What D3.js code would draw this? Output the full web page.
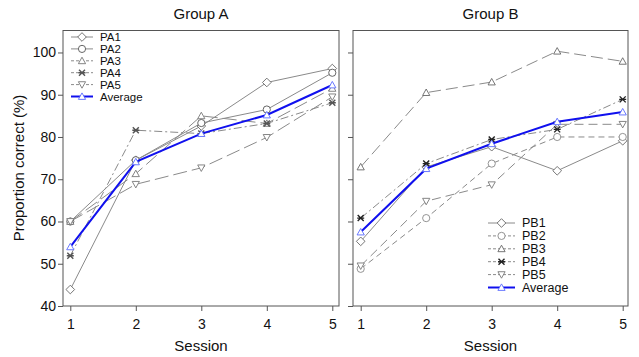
<!DOCTYPE html>
<meta charset="utf-8">
<style>
body { margin: 0; background: #fff; }
svg { display: block; }
svg text { font-family: Arial, "Liberation Sans", sans-serif; }
</style>
<body>
<script src="https://cdn.jsdelivr.net/npm/d3@7"></script>
<script>

// sessions on the x axis
var sessions = [1, 2, 3, 4, 5];
var yTicks = [40, 50, 60, 70, 80, 90, 100];

// Group A, proportion correct (%) per session
var groupANames = ["PA1", "PA2", "PA3", "PA4", "PA5", "Average"];
var pa1 = [43.9, 74.5, 82.6, 92.9, 96.2];
var pa2 = [60.0, 74.5, 83.3, 86.5, 95.2];
var pa3 = [60.0, 71.3, 85.0, 83.2, 91.5];
var pa4 = [51.9, 81.6, 80.8, 83.2, 88.1];
var pa5 = [60.0, 68.8, 72.7, 79.9, 89.5];
var avgA = [54.0, 74.1, 80.8, 85.2, 92.3];

// Group B
var groupBNames = ["PB1", "PB2", "PB3", "PB4", "PB5", "Average"];
var pb1 = [55.3, 72.9, 77.7, 72.0, 79.1];
var pb2 = [48.8, 60.8, 73.7, 80.0, 80.0];
var pb3 = [72.9, 90.5, 93.0, 100.3, 97.9];
var pb4 = [60.8, 73.7, 79.4, 81.8, 88.9];
var pb5 = [49.5, 64.8, 68.7, 83.0, 83.0];
var avgB = [57.5, 72.5, 78.4, 83.6, 85.9];

// line / marker styles, one per series (same order as names)
var stylesA = [
  {sym: "diamond", dash: null, mk: "#666"},
  {sym: "circle", dash: null, mk: "#555"},
  {sym: "triangle", dash: "14,5", mk: "#777"},
  {sym: "cross", dash: "8,3,2,3", mk: "#555"},
  {sym: "down", dash: "14,5", mk: "#777"},
  {sym: "triangle", dash: null, avg: true}
];
var stylesB = [
  {sym: "diamond", dash: null, mk: "#666"},
  {sym: "circle", dash: "6,4", mk: "#888"},
  {sym: "triangle", dash: "12,5", mk: "#666"},
  {sym: "cross", dash: "8,3,2,3", mk: "#222"},
  {sym: "down", dash: "9,5", mk: "#777"},
  {sym: "triangle", dash: null, avg: true}
];

var W = 639, H = 357;
var FONT = "Arial, 'Liberation Sans', sans-serif";
var svg = d3.select("body").append("svg")
  .attr("width", W).attr("height", H);

var y = d3.scaleLinear().domain([40, 105.2]).range([306, 30.5]);

function symbolPath(sym) {
  var s = 3.6;
  if (sym == "diamond") return "M0," + (-s*1.2) + "L" + (s*1.2) + ",0L0," + (s*1.2) + "L" + (-s*1.2) + ",0Z";
  if (sym == "triangle") return "M0," + (-s) + "L" + (s) + "," + (s*0.8) + "L" + (-s) + "," + (s*0.8) + "Z";
  if (sym == "down") return "M0," + (s) + "L" + (s) + "," + (-s*0.8) + "L" + (-s) + "," + (-s*0.8) + "Z";
  if (sym == "cross") return "M-3,-3L3,3M3,-3L-3,3M-3.5,0L3.5,0";
  return "";
}

function drawMarker(g, sym, cx, cy, st) {
  var col = st.avg ? "#5a6bff" : st.mk;
  if (sym == "circle") {
    g.append("circle").attr("cx", cx).attr("cy", cy).attr("r", 3.6)
      .attr("fill", "#fff").attr("stroke", col).attr("stroke-width", 0.9);
  } else {
    g.append("path").attr("d", symbolPath(sym))
      .attr("transform", "translate(" + cx + "," + cy + ")")
      .attr("fill", sym == "cross" ? "none" : "#fff")
      .attr("stroke", col).attr("stroke-width", sym == "cross" ? 1.4 : 0.9);
  }
}

function panel(opts) {
  var x = d3.scaleLinear().domain([1, 5]).range([opts.x1, opts.x5]);
  var g = svg.append("g");

  // frame
  g.append("rect").attr("x", opts.left).attr("y", 30.5)
    .attr("width", opts.right - opts.left).attr("height", 306 - 30.5)
    .attr("fill", "none").attr("stroke", "#555").attr("stroke-width", 1);

  // axes with outward ticks
  var xAxis = d3.axisBottom(x).tickValues(sessions).tickFormat(d3.format("d"))
    .tickSize(5).tickSizeOuter(0);
  var xg = g.append("g").attr("transform", "translate(0,306)").call(xAxis);
  xg.attr("font-family", FONT);
  xg.select(".domain").remove();
  xg.selectAll("line").attr("stroke", "#555");
  xg.selectAll("text").attr("font-size", 14).attr("fill", "#111").attr("dy", "1.05em");

  var yAxis = d3.axisLeft(y).tickValues(yTicks).tickSize(5).tickSizeOuter(0);
  var yg = g.append("g").attr("transform", "translate(" + opts.left + ",0)").call(yAxis);
  yg.attr("font-family", FONT);
  yg.select(".domain").remove();
  yg.selectAll("line").attr("stroke", "#555");
  if (opts.yLabels) {
    yg.selectAll("text").attr("font-size", 14).attr("fill", "#111").attr("x", -7);
  } else {
    yg.selectAll("text").remove();
  }

  // titles
  g.append("text").attr("x", (opts.left + opts.right) / 2).attr("y", 19)
    .attr("text-anchor", "middle").attr("font-size", 15).attr("fill", "#111").text(opts.title);
  g.append("text").attr("x", (opts.left + opts.right) / 2).attr("y", 351)
    .attr("text-anchor", "middle").attr("font-size", 15).attr("fill", "#111").text("Session");

  var line = d3.line().x(function(d, i) { return x(sessions[i]); }).y(function(d) { return y(d); });

  // series lines and markers
  opts.series.forEach(function(vals, k) {
    var st = opts.styles[k];
    if (st.avg) return;
    g.append("path").attr("d", line(vals)).attr("fill", "none")
      .attr("stroke", "#8a8a8a").attr("stroke-width", 1)
      .attr("stroke-dasharray", st.dash);
  });
  opts.series.forEach(function(vals, k) {
    var st = opts.styles[k];
    if (st.avg) return;
    vals.forEach(function(v, i) { drawMarker(g, st.sym, x(sessions[i]), y(v), st); });
  });
  opts.series.forEach(function(vals, k) {
    var st = opts.styles[k];
    if (!st.avg) return;
    g.append("path").attr("d", line(vals)).attr("fill", "none")
      .attr("stroke", "#1010ee").attr("stroke-width", 2);
    vals.forEach(function(v, i) { drawMarker(g, st.sym, x(sessions[i]), y(v), st); });
  });

  // legend
  var lg = g.append("g");
  opts.names.forEach(function(name, k) {
    var st = opts.styles[k];
    var ly = opts.legY + k * opts.legStep;
    lg.append("line").attr("x1", opts.legX).attr("x2", opts.legX + opts.legLen)
      .attr("y1", ly).attr("y2", ly)
      .attr("stroke", st.avg ? "#1010ee" : "#8a8a8a")
      .attr("stroke-width", st.avg ? 2 : 1)
      .attr("stroke-dasharray", st.dash ? "3,2" : null);
    drawMarker(lg, st.sym, opts.legX + opts.legLen / 2, ly, st);
    lg.append("text").attr("x", opts.legX + opts.legLen + 7).attr("y", ly + 4)
      .attr("font-size", opts.legFont).attr("fill", "#111").text(name);
  });
}

panel({
  title: "Group A", left: 63, right: 339, x1: 70.3, x5: 332.3, yLabels: true,
  names: groupANames, styles: stylesA, series: [pa1, pa2, pa3, pa4, pa5, avgA],
  legX: 71, legLen: 22, legY: 37, legStep: 11.9, legFont: 11.5
});
panel({
  title: "Group B", left: 353, right: 628, x1: 360.7, x5: 622.7, yLabels: false,
  names: groupBNames, styles: stylesB, series: [pb1, pb2, pb3, pb4, pb5, avgB],
  legX: 488, legLen: 27, legY: 223, legStep: 12.9, legFont: 12.5
});

// shared y label
svg.append("text").attr("transform", "translate(24,168) rotate(-90)")
  .attr("text-anchor", "middle").attr("font-size", 15).attr("fill", "#111")
  .text("Proportion correct (%)");

</script>
</body>
